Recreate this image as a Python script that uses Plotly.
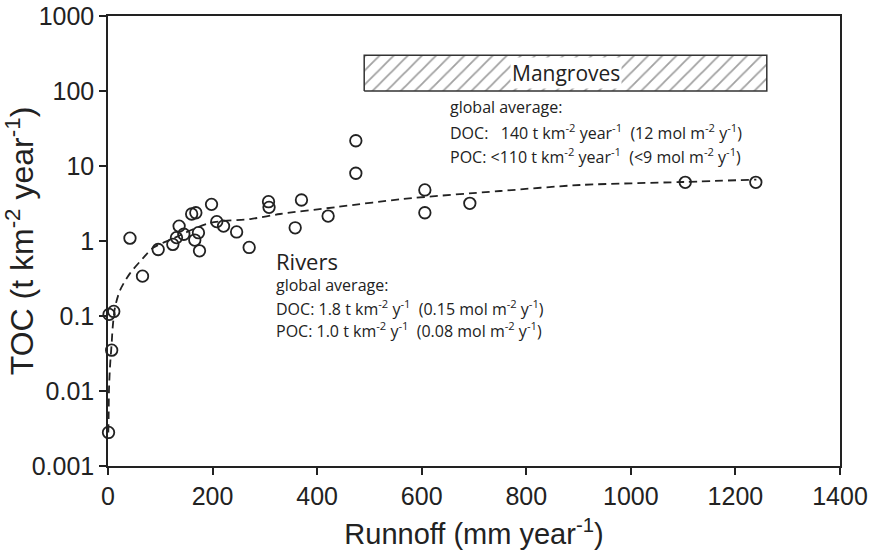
import plotly.graph_objects as go

# Observed river TOC yields against runoff
runoff = [1, 7, 2, 11, 42, 66, 96, 124, 131, 136, 145, 160, 168, 166, 173, 175,
          198, 208, 221, 246, 270, 307, 308, 370, 358, 421, 474, 474, 606, 606,
          692, 1104, 1239]
toc = [0.0028, 0.035, 0.105, 0.115, 1.09, 0.34, 0.77, 0.90, 1.11, 1.58, 1.23,
       2.29, 2.38, 1.03, 1.29, 0.74, 3.08, 1.81, 1.58, 1.32, 0.82, 3.34, 2.81,
       3.52, 1.50, 2.15, 21.7, 8.0, 4.79, 2.38, 3.18, 6.06, 6.06]

# Fitted trend (dashed)
fit_runoff = [0.6, 1.2, 1.9, 3.8, 7.1, 9, 13.4, 23, 42, 67, 86, 122, 195, 272,
              329, 438, 564, 750, 903, 1100, 1240]
fit_toc = [0.0028, 0.0045, 0.0103, 0.021, 0.044, 0.071, 0.13, 0.22, 0.37, 0.59,
           0.81, 1.06, 1.74, 1.96, 2.29, 2.84, 3.63, 4.64, 5.58, 6.12, 6.6]

# Mangrove yield range
mangrove_runoff = [490, 1260]
mangrove_toc = [100, 300]

ytick_vals = [0.001, 0.01, 0.1, 1, 10, 100, 1000]
ytick_text = ["0.001", "0.01", "0.1", "1", "10", "100", "1000"]
xtick_vals = [0, 200, 400, 600, 800, 1000, 1200, 1400]

INK = "#222222"
AXIS_FONT = "Liberation Sans, Arial, sans-serif"
NOTE_FONT = "Open Sans, Noto Sans, sans-serif"

fig = go.Figure()

x0, x1 = mangrove_runoff
y0, y1 = mangrove_toc
fig.add_trace(go.Scatter(
    x=[x0, x1, x1, x0, x0], y=[y0, y0, y1, y1, y0],
    mode="lines", fill="toself", fillcolor="white",
    fillpattern=dict(shape="/", fgcolor="#444444", bgcolor="white", size=10, solidity=0.18),
    line=dict(color="#333333", width=1.5), hoverinfo="skip", showlegend=False))

fig.add_trace(go.Scatter(
    x=fit_runoff, y=fit_toc, mode="lines",
    line=dict(color=INK, width=1.8, dash="8px,5px", shape="spline", smoothing=0.8),
    showlegend=False, hoverinfo="skip"))

fig.add_trace(go.Scatter(
    x=runoff, y=toc, mode="markers", cliponaxis=False,
    marker=dict(symbol="circle-open", size=11.5, color=INK, line=dict(width=1.8, color=INK)),
    showlegend=False))

fig.add_annotation(x=(x0 + x1) / 2, y=(2.0 + 2.477) / 2, xref="x", yref="y",
                   text="Mangroves", showarrow=False,
                   font=dict(family=NOTE_FONT, size=21, color=INK), bgcolor="white",
                   borderpad=1)

mangrove_notes = [
    "global average:",
    "DOC:   140 t km<sup>-2</sup> year<sup>-1</sup>  (12 mol m<sup>-2</sup> y<sup>-1</sup>)",
    "POC: <110 t km<sup>-2</sup> year<sup>-1</sup>  (<9 mol m<sup>-2</sup> y<sup>-1</sup>)",
]
for line, ly in zip(mangrove_notes, [1.79, 1.45, 1.14]):
    fig.add_annotation(x=650, y=ly, xref="x", yref="y", text=line, showarrow=False,
                       xanchor="left", font=dict(family=NOTE_FONT, size=16, color=INK))

fig.add_annotation(x=318, y=-0.27, xref="x", yref="y", text="Rivers", showarrow=False,
                   xanchor="left", font=dict(family=NOTE_FONT, size=22, color=INK))
river_notes = [
    "global average:",
    "DOC: 1.8 t km<sup>-2</sup> y<sup>-1</sup>  (0.15 mol m<sup>-2</sup> y<sup>-1</sup>)",
    "POC: 1.0 t km<sup>-2</sup> y<sup>-1</sup>  (0.08 mol m<sup>-2</sup> y<sup>-1</sup>)",
]
for line, ly in zip(river_notes, [-0.59, -0.89, -1.19]):
    fig.add_annotation(x=318, y=ly, xref="x", yref="y", text=line, showarrow=False,
                       xanchor="left", font=dict(family=NOTE_FONT, size=16, color=INK))

axis_common = dict(showline=True, linecolor=INK, linewidth=1.5, mirror=True,
                   ticks="outside", ticklen=7, tickwidth=1.5, tickcolor=INK,
                   showgrid=False, zeroline=False, automargin=False,
                   tickfont=dict(family=AXIS_FONT, size=25, color=INK))

fig.update_xaxes(range=[0, 1400], tickvals=xtick_vals,
                 title=dict(text="Runnoff (mm year<sup>-1</sup>)",
                            font=dict(family=AXIS_FONT, size=29, color=INK)),
                 **axis_common)
fig.update_yaxes(type="log", range=[-3, 3], tickvals=ytick_vals, ticktext=ytick_text,
                 title=dict(text="TOC (t km<sup>-2</sup> year<sup>-1</sup>)",
                            font=dict(family=AXIS_FONT, size=32, color=INK)),
                 **axis_common)

fig.update_layout(width=877, height=555, margin=dict(l=108, r=37, t=16, b=89),
                  plot_bgcolor="white", paper_bgcolor="white")

fig.write_html("out.html")
